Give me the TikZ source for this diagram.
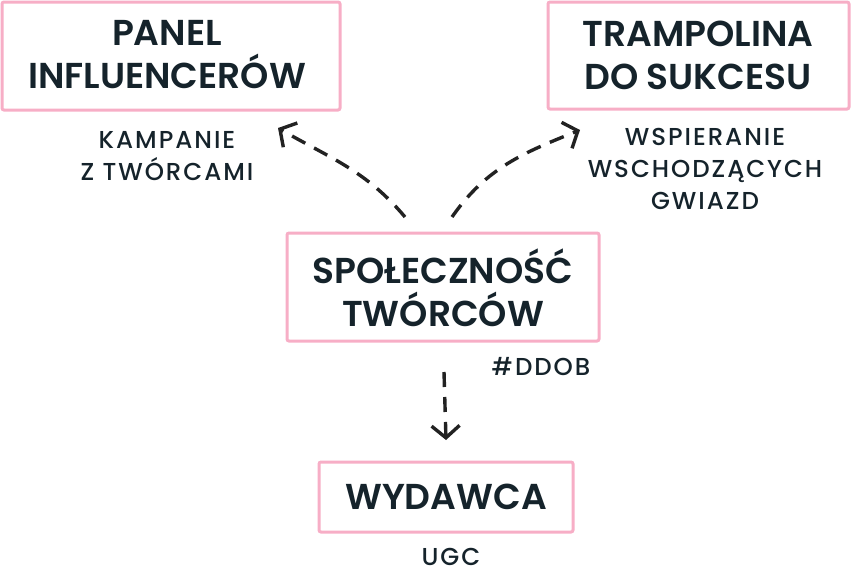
\documentclass[tikz,border=0pt]{standalone}
\usepackage{fontspec}
\setmainfont{Poppins}[BoldFont={Poppins SemiBold}]
\newfontfamily\lblfont{Poppins Medium}[LetterSpace=8]
\usetikzlibrary{arrows.meta}
\definecolor{pinkb}{HTML}{F7AEC6}
\definecolor{ink}{HTML}{15232B}
\definecolor{arr}{HTML}{222222}
\tikzset{
  box/.style={draw=pinkb, line width=3pt, rounded corners=2pt, inner sep=0pt, fill=white},
  title/.style={text=ink, font=\fontsize{36}{43}\selectfont\bfseries, align=center},
  lbl/.style={text=ink, font=\lblfont\fontsize{24.5}{32}\selectfont, align=center},
  conn/.style={draw=arr, line width=3.4pt, dash pattern=on 15pt off 10pt,
    -{Straight Barb[length=12pt,width=28pt,line width=3.4pt]}},
}
\begin{document}
\begin{tikzpicture}[x=1pt,y=-1pt]
\useasboundingbox (0,0) rectangle (851,570);
% boxes
\node[box, minimum width=338pt, minimum height=108pt] (panel) at (171,56) {};
\node[box, minimum width=301pt, minimum height=107pt] (tramp) at (698.5,55.5) {};
\node[box, minimum width=312pt, minimum height=108pt] (spol) at (443,287) {};
\node[box, minimum width=254pt, minimum height=70pt] (wyd) at (446,497) {};
% titles
\node[title] (panelt) at (167,55) {PANEL\\INFLUENCERÓW};
\node[title] (trampt) at (698,55) {TRAMPOLINA\\DO SUKCESU};
\node[title] (spolt) at (443,288) {SPOŁECZNOŚĆ\\TWÓRCÓW};
\node[title] (wydt) at (446,497) {WYDAWCA};
% labels
\node[lbl] (kamp) at (167,156) {KAMPANIE\\Z TWÓRCAMI};
\node[lbl] (wspi) at (705,169) {WSPIERANIE\\WSCHODZĄCYCH\\GWIAZD};
\node[lbl] (ddob) at (541,367) {\#DDOB};
\node[lbl] (ugc) at (451,557) {UGC};
% connector ends
\coordinate (lstart) at (405,217);
\coordinate (lend) at (278,128);
\coordinate (rstart) at (452,217);
\coordinate (rend) at (580,130);
\coordinate (dstart) at (444,372);
\coordinate (dend) at (446,440);
% connectors
\draw[conn] (lstart) to[out=130,in=-30] (lend);
\draw[conn] (rstart) to[out=55,in=-158] (rend);
\draw[conn] (dstart) -- (dend);
\end{tikzpicture}
\end{document}
